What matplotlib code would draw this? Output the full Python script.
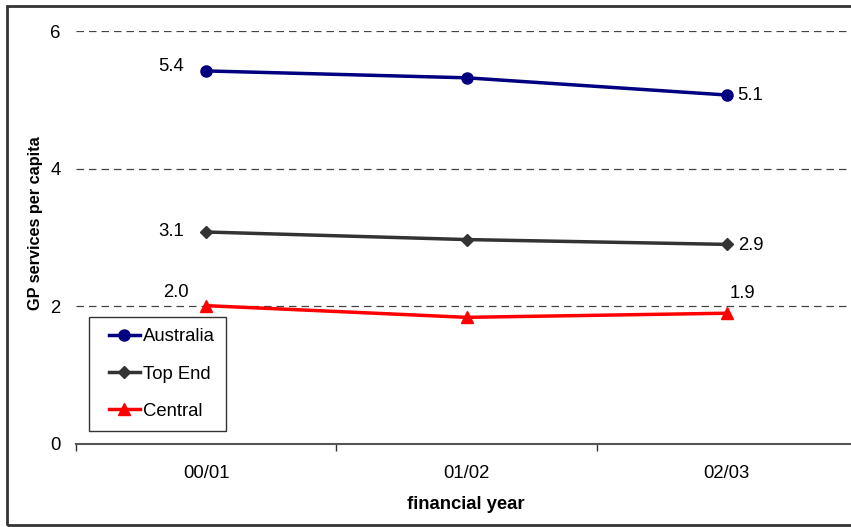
"""GP services per capita by financial year: Australia vs Top End vs Central."""
import matplotlib

matplotlib.use("Agg")
import matplotlib.pyplot as plt
from matplotlib.legend_handler import HandlerLine2D
from matplotlib.lines import Line2D
from matplotlib.patches import Rectangle

plt.rcParams["font.family"] = ["Liberation Sans", "DejaVu Sans"]

years = ["00/01", "01/02", "02/03"]
australia = [5.42, 5.32, 5.07]
top_end = [3.08, 2.97, 2.90]
central = [2.01, 1.84, 1.90]

W, H = 851, 527
FS = 13.3
fig = plt.figure(figsize=(W / 100, H / 100), dpi=100)

# outer chart border (right edge runs off the picture)
fig.patches.append(Rectangle((7 / W, 2 / H), 1.0, 1 - 8 / H, transform=fig.transFigure,
                             fill=False, edgecolor="#333333", linewidth=2.0))

ax = fig.add_axes([76 / W, 83 / H, (857 - 76) / W, (444 - 31) / H])
x = list(range(len(years)))

ax.plot(x, australia, color="#000080", lw=2.5, marker="o", ms=8, label="Australia")
ax.plot(x, top_end, color="#333333", lw=2.5, marker="D", ms=6, label="Top End")
ax.plot(x, central, color="#ff0000", lw=2.5, marker="^", ms=8, label="Central")

ax.set_xlim(-0.5, 2.5)
ax.set_ylim(0, 6)
ax.set_yticks([0, 2, 4, 6])
ax.set_xticks(x)
ax.set_xticklabels(years)
ax.set_xticks([-0.5, 0.5, 1.5, 2.5], minor=True)
ax.tick_params(axis="x", which="major", length=0, pad=15, labelsize=FS)
ax.tick_params(axis="x", which="minor", length=5, width=1, color="#333333")
ax.tick_params(axis="y", length=0, pad=11, labelsize=FS)

for yv in [2, 4, 6]:
    ax.axhline(yv, color="#444444", lw=0.9, ls=(0, (6, 4)), zorder=0)

for side in ["top", "right", "left"]:
    ax.spines[side].set_visible(False)
ax.spines["bottom"].set_color("#555555")
ax.spines["bottom"].set_linewidth(1.5)

ax.set_xlabel("financial year", fontweight="bold", fontsize=FS)
ax.xaxis.set_label_coords((466 - 76) / (857 - 76), -(496 - 444) / (444 - 31))
ax.set_ylabel("GP services per capita", fontweight="bold", fontsize=11.7)
ax.yaxis.set_label_coords(-(76 - 43) / (857 - 76), (444 - 223) / (444 - 31))

# value labels at first and last points (offsets in pixels)
lbl = dict(fontsize=FS, textcoords="offset pixels", va="center")
ax.annotate(f"{australia[0]:.1f}", (0, australia[0]), xytext=(-35, 4), ha="center", **lbl)
ax.annotate(f"{australia[-1]:.1f}", (2, australia[-1]), xytext=(10, 0), ha="left", **lbl)
ax.annotate(f"{top_end[0]:.1f}", (0, top_end[0]), xytext=(-35, 0), ha="center", **lbl)
ax.annotate(f"{top_end[-1]:.1f}", (2, top_end[-1]), xytext=(11, -1), ha="left", **lbl)
ax.annotate(f"{central[0]:.1f}", (0, central[0]), xytext=(-30, 13), ha="center", **lbl)
ax.annotate(f"{central[-1]:.1f}", (2, central[-1]), xytext=(16, 20), ha="center", **lbl)

leg = ax.legend(loc="upper left", bbox_to_anchor=(89 / W, 1 - 317 / H), bbox_transform=fig.transFigure,
                borderaxespad=0, frameon=True, fancybox=False, fontsize=FS, handlelength=2.14,
                labelspacing=1.09, borderpad=0.62, handletextpad=0.16,
                handler_map={Line2D: HandlerLine2D(xpad=0.46)})
leg.get_frame().set_edgecolor("black")
leg.get_frame().set_linewidth(1.0)

fig.savefig("out.png", dpi=100)
